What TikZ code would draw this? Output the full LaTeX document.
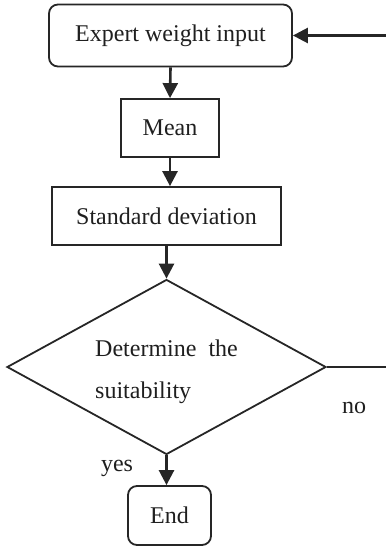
\documentclass[tikz,border=0pt]{standalone}
\usepackage{fontspec}
\setmainfont{Liberation Serif}
\usetikzlibrary{shapes.geometric,arrows.meta}
\begin{document}
\begin{tikzpicture}[x=1pt,y=-1pt,
  every node/.style={font=\fontsize{24}{42}\selectfont, text=black!88, inner sep=0pt},
  boxline/.style={draw=black!85, line width=1.8pt},
  roundbox/.style={boxline, rounded corners=9pt},
  plainbox/.style={boxline},
  decision/.style={boxline, diamond},
  flow/.style={draw=black!85, line width=2.6pt, -{Triangle[length=15pt,width=15pt]}},
  plainline/.style={draw=black!85, line width=1.8pt},
  lbl/.style={font=\fontsize{24}{26}\selectfont}]
\useasboundingbox (0,0) rectangle (386,547);

\node[roundbox, minimum width=243pt, minimum height=62pt] (expert) at (170.5,35.5) {Expert weight input};
\node[plainbox, minimum width=98pt, minimum height=58pt] (mean) at (170,128) {Mean};
\node[plainbox, minimum width=229pt, minimum height=58pt] (sd) at (166.5,216) {Standard deviation};
\node[decision, minimum width=319pt, minimum height=175pt] (check) at (166.5,367) {};
\node[align=left] (checktext) at (166.5,372) {Determine\ \ the\\suitability};
\node[roundbox, minimum width=83pt, minimum height=59pt] (end) at (169.5,515.5) {End};

\coordinate (noend) at (386,367);
\coordinate (backin) at (386,35.5);

\draw[flow] (expert.south) -- (mean.north);
\draw[flow] (mean.south) -- (mean.south |- sd.north);
\draw[flow] (check.north |- sd.south) -- (check.north);
\draw[flow] (check.south) -- (check.south |- end.north);
\draw[plainline] (check.east) -- (noend);
\draw[flow] (backin) -- (expert.east);

\node[lbl] (no) at (354,408) {no};
\node[lbl] (yes) at (117,468) {yes};
\end{tikzpicture}
\end{document}
